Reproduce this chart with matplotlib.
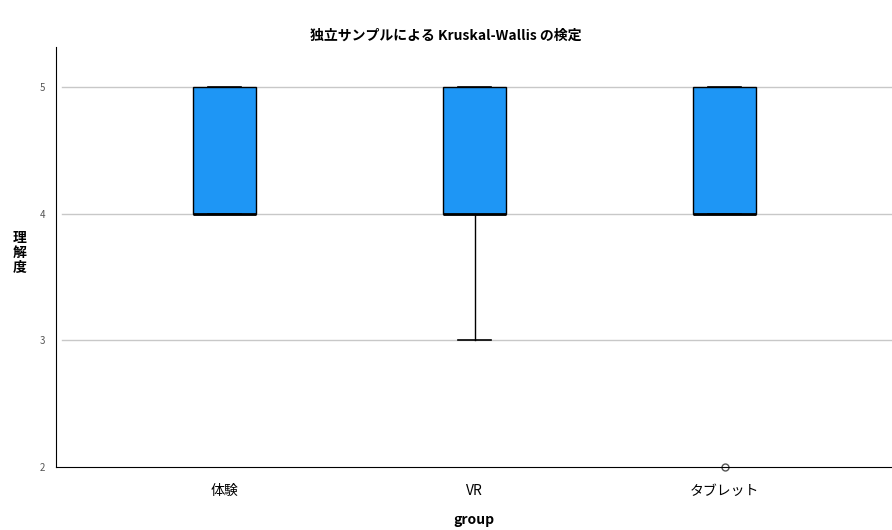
import matplotlib
matplotlib.use("Agg")
import matplotlib.pyplot as plt

plt.rcParams['font.family'] = ['Noto Sans CJK JP', 'DejaVu Sans']

groups = ['体験', 'VR', 'タブレット']
q1 = [4, 4, 4]
med = [4, 4, 4]
q3 = [5, 5, 5]
whislo = [4, 3, 4]
whishi = [5, 5, 5]
fliers = [[], [], [2]]

stats = []
for i in range(len(groups)):
    stats.append(dict(label=groups[i], q1=q1[i], med=med[i], q3=q3[i],
                      whislo=whislo[i], whishi=whishi[i], fliers=fliers[i]))

fig = plt.figure(figsize=(8.92, 5.30), dpi=100)
ax = fig.add_axes([56 / 892, 63 / 530, 836 / 892, 420 / 530])

ax.bxp(stats, positions=[0, 1, 2], widths=0.25, patch_artist=True,
       boxprops=dict(facecolor='#1e96f5', edgecolor='black', linewidth=1),
       medianprops=dict(color='black', linewidth=2),
       whiskerprops=dict(color='black', linewidth=1),
       capprops=dict(color='black', linewidth=1.2),
       capwidths=0.13,
       flierprops=dict(marker='o', markerfacecolor='none', markeredgecolor='#555555',
                       markersize=5))

ax.set_xlim(-0.675, 2.67)
ax.set_ylim(2, 5.32)
ax.set_yticks([2, 3, 4, 5])
for y in [3, 4, 5]:
    ax.axhline(y, xmin=0.007, color='#c8c8c8', linewidth=1, zorder=0)

ax.spines['top'].set_visible(False)
ax.spines['right'].set_visible(False)
ax.tick_params(axis='y', length=0, labelsize=7, labelcolor='#555555', pad=8)
ax.tick_params(axis='x', length=0, labelsize=10, pad=12)
for a in ax.get_children():
    if isinstance(a, matplotlib.lines.Line2D):
        a.set_clip_on(False)

ax.set_xlabel('group', fontsize=10, fontweight='bold', labelpad=11)
ax.set_ylabel('理\n解\n度', fontsize=10, fontweight='bold', rotation=0,
              va='center', linespacing=1.1)
ax.yaxis.set_label_coords(-0.043, 0.51)
fig.suptitle('独立サンプルによる Kruskal-Wallis の検定', fontsize=10,
             fontweight='bold', y=0.945)

plt.savefig('out.png')
